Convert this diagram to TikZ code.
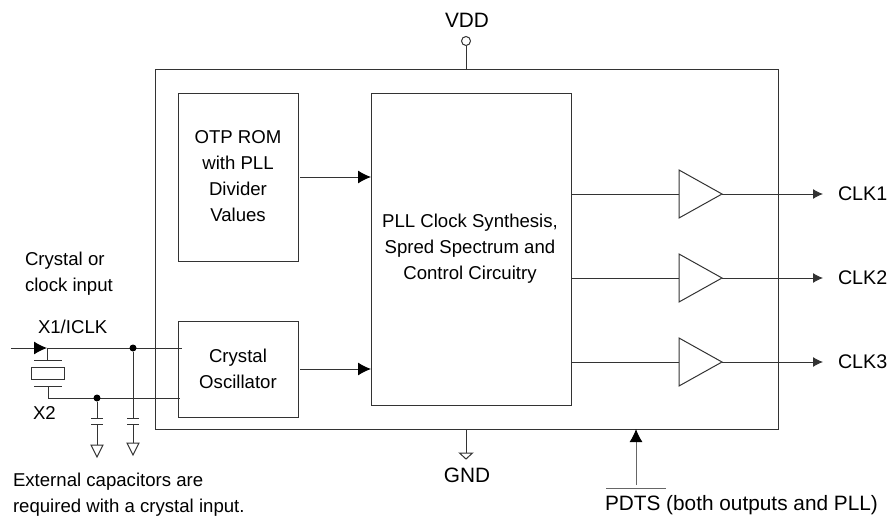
\documentclass[tikz,border=0pt]{standalone}
\usepackage{fontspec}
\setmainfont{Liberation Sans}
\usepackage{tikz}
\usetikzlibrary{arrows.meta, positioning, shapes.geometric}

\begin{document}
\begin{tikzpicture}[
    x=1pt, y=-1pt,
    every node/.style={font=\fontsize{18.6}{26}\selectfont},
    line width=1pt,
    block/.style={rectangle, draw=black!80, inner sep=0pt, outer sep=0pt, align=center},
    label/.style={inner sep=0pt, outer sep=0pt, align=left},
    pinlabel/.style={font=\fontsize{20.8}{26}\selectfont},
    buffer/.style={isosceles triangle, isosceles triangle stretches, draw=black!80, inner sep=0pt, outer sep=0pt, minimum width=48pt, minimum height=43pt},
    ground/.style={isosceles triangle, isosceles triangle stretches, shape border rotate=270, draw=black!80, inner sep=0pt, outer sep=0pt, anchor=lower side, minimum width=12pt, minimum height=12pt},
    wire/.style={draw=black!80},
    connector/.style={-{Latex[length=10pt, width=10pt]}, draw=black!80},
    bigconnector/.style={-{Latex[length=13pt, width=13pt, black]}, draw=black!80},
    junction/.style={circle, fill=black, draw=none, inner sep=0pt, minimum size=7pt},
]
    \useasboundingbox (0,0) rectangle (890,519);

    % Chip and inner blocks
    \node[block, minimum width=623pt, minimum height=360pt, anchor=north west] (chip) at (155,69) {};
    \node[block, below right=24pt and 23pt of chip.north west, minimum width=120pt, minimum height=168pt] (otp) {};
    \node[block, below=60pt of otp, minimum width=120pt, minimum height=96pt] (osc) {};
    \node[block, below right=0pt and 73pt of otp.north east, minimum width=200pt, minimum height=312pt] (pll) {};

    % Block texts
    \node[align=center] (otptext) at (238,176) {OTP ROM\\with PLL\\Divider\\Values};
    \node[align=center] (osctext) at (238,369) {Crystal\\Oscillator};
    \node[align=center] (plltext) at (470,249) {PLL Clock Synthesis,\\Spred Spectrum and\\Control Circuitry};

    % Output buffers
    \foreach \i/\ypos in {1/194, 2/278, 3/362} {
        \node[buffer, anchor=west] (buf\i) at (679,\ypos) {};
        \node[label, anchor=west, font=\fontsize{19.7}{26}\selectfont] (clk\i) at (838,\ypos) {CLK\i};
        \coordinate (out\i) at (823,\ypos);
        \draw[wire] (pll.east |- buf\i.west) -- (buf\i.west);
        \draw[connector] (buf\i.east) -- (out\i);
    }

    % Arrows into PLL block
    \draw[bigconnector] ([xshift=2pt]otp.east |- 0,177) -- (pll.west |- 0,177);
    \draw[bigconnector] ([xshift=2pt]osc.east |- 0,369) -- (pll.west |- 0,369);

    % Power pins
    \node[circle, draw=black!80, inner sep=0pt, minimum size=9pt] (vddpin) at (466,41) {};
    \node[pinlabel] (vdd) at (467,20) {VDD};
    \draw[wire] (vddpin) -- (vddpin |- chip.north);
    \node[ground, minimum width=13pt, minimum height=6pt] (gndpin) at (466,453) {};
    \node[pinlabel] (gnd) at (467,475) {GND};
    \draw[wire] (gndpin.lower side |- chip.south) -- (gndpin.lower side);

    % Power down input
    \coordinate (pdtsbar) at (636,485);
    \node[label, pinlabel, anchor=west] (pdts) at (605,505) {PDTS (both outputs and PLL)};
    \draw[draw=black!60] ([xshift=-30pt,yshift=-3pt]pdtsbar) -- ([xshift=30pt,yshift=-3pt]pdtsbar);
    \draw[bigconnector, draw=black!60] (pdtsbar) -- (pdtsbar |- chip.south);

    % Crystal input
    \coordinate (inleft) at (11,348);
    \coordinate (intip) at (47,348);
    \coordinate (intop) at (182,348);
    \coordinate (xtop) at (48,360);
    \coordinate (xbot) at (48,386);
    \coordinate (xcorner) at (48,398);
    \coordinate (xright) at (180,398);
    \node[block, minimum width=33pt, minimum height=12pt] (xtal) at (48,373) {};
    \draw[bigconnector] (inleft) -- (intip);
    \draw[wire] (intip) -- (intop);
    \draw[wire] (xtop -| intip) -- (intip);
    \draw[wire] (xbot) -- (xcorner) -- (xright);
    \draw[wire] ([xshift=-14pt]xtop) -- ([xshift=14pt]xtop);
    \draw[wire] ([xshift=-14pt]xbot) -- ([xshift=14pt]xbot);

    % External capacitors
    \foreach \name/\xpos/\ysrc/\ygnd in {a/97/398/445, b/133/348/443} {
        \node[junction] (dot\name) at (\xpos,\ysrc) {};
        \coordinate (plate\name) at (\xpos,418);
        \coordinate (lower\name) at (\xpos,424);
        \node[ground] (gnd\name) at (\xpos,\ygnd) {};
        \draw[wire] (dot\name) -- (plate\name);
        \draw[wire] ([xshift=-6pt]plate\name) -- ([xshift=6pt]plate\name);
        \draw[wire] ([xshift=-6pt]lower\name) -- ([xshift=6pt]lower\name);
        \draw[wire] (lower\name) -- (gnd\name.lower side);
    }

    % Labels
    \node[label, anchor=west] (xinput) at (25,274) {Crystal or\\clock input};
    \node[label, anchor=west] (xone) at (38,327) {X1/ICLK};
    \node[label, anchor=west] (xtwo) at (33,413) {X2};
    \node[label, anchor=west] (note) at (13,495) {External capacitors are\\required with a crystal input.};
\end{tikzpicture}
\end{document}
